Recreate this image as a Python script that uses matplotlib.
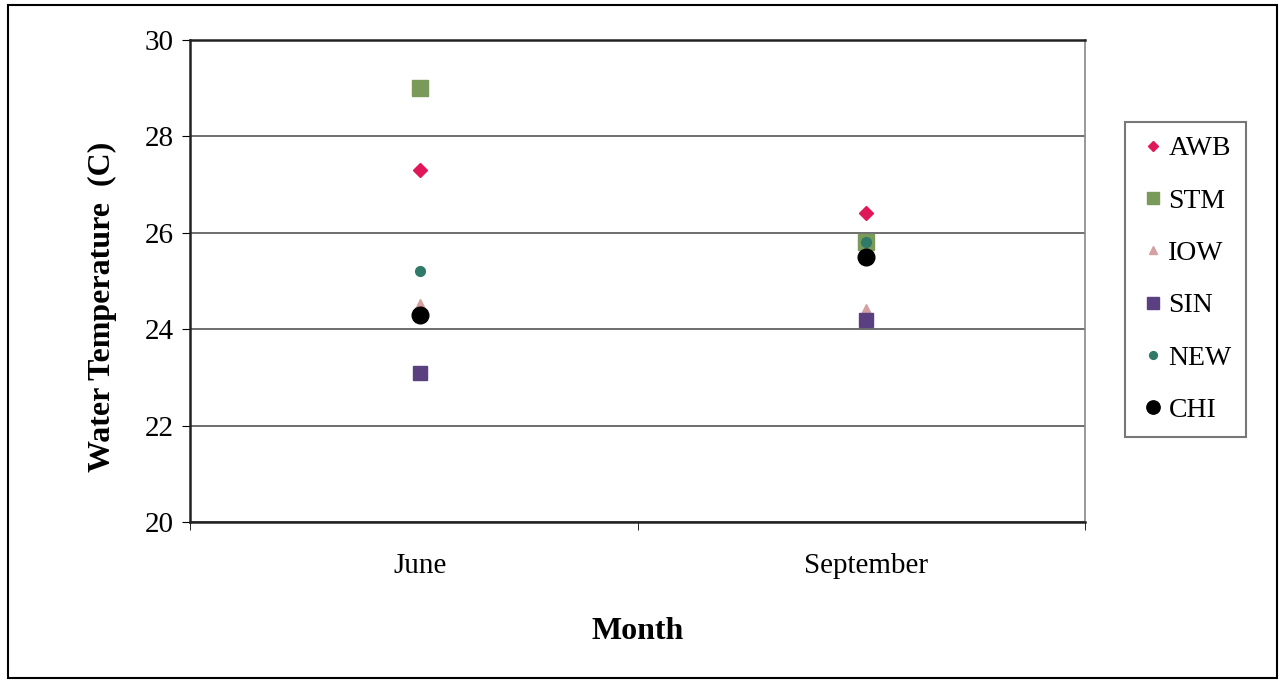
import matplotlib.pyplot as plt
from matplotlib.patches import Rectangle

months = ['June', 'September']
series = ['AWB', 'STM', 'IOW', 'SIN', 'NEW', 'CHI']
awb = [27.3, 26.4]
stm = [29.0, 25.8]
iow = [24.5, 24.4]
sin = [23.1, 24.2]
new = [25.2, 25.8]
chi = [24.3, 25.5]

values = [awb, stm, iow, sin, new, chi]
markers = ['D', 's', '^', 's', 'o', 'o']
sizes = [7, 11, 8, 10, 7, 12]
colors = ['#E0185A', '#7A9A5A', '#D4A0A0', '#5A4080', '#2F7A68', '#000000']

plt.rcParams['font.family'] = ['Liberation Serif', 'DejaVu Serif']

fig = plt.figure(figsize=(12.85, 6.81), dpi=100)
ax = fig.add_axes([0.1479, 0.2335, 0.6965, 0.7078])

x = list(range(len(months)))
for name, vals, m, s, c in zip(series, values, markers, sizes, colors):
    ax.plot(x, vals, linestyle='none', marker=m, markersize=s, color=c,
            markeredgecolor=c, label=name, zorder=3)

ax.set_xlim(-0.516, 1.49)
ax.set_ylim(20, 30)
ax.set_yticks([20, 22, 24, 26, 28, 30])
ax.tick_params(axis='y', labelsize=21, length=6, direction='out', pad=6)
ax.set_xticks(x)
ax.set_xticklabels(months, fontsize=21)
ax.tick_params(axis='x', length=0, pad=22)
ax.set_xticks([-0.516, 0.489, 1.49], minor=True)
ax.tick_params(axis='x', which='minor', length=6, direction='out')
ax.grid(axis='y', color='#555555', linewidth=1.2)
ax.set_axisbelow(True)
for side in ['left', 'bottom', 'top']:
    ax.spines[side].set_color('#222222')
    ax.spines[side].set_linewidth(1.8)
ax.spines['right'].set_color('#888888')
ax.spines['right'].set_linewidth(1.2)

ax.set_ylabel('Water Temperature  (C)', fontsize=23, fontweight='bold')
ax.yaxis.set_label_coords(-0.082, 0.446)
ax.set_xlabel('Month', fontsize=23, fontweight='bold', labelpad=28)

leg = ax.legend(loc='upper left', bbox_to_anchor=(1.045, 0.83), fontsize=20,
                frameon=True, fancybox=False, handletextpad=0.05,
                handlelength=1.0, labelspacing=0.97, borderpad=0.5,
                borderaxespad=0, markerscale=0.8)
leg.get_frame().set_edgecolor('#555555')
leg.get_frame().set_linewidth(1.5)

fig.patches.append(Rectangle((0.006, 0.004), 0.988, 0.989, transform=fig.transFigure,
                             fill=False, edgecolor='black', linewidth=1.5))

fig.savefig('out.png', dpi=100)
